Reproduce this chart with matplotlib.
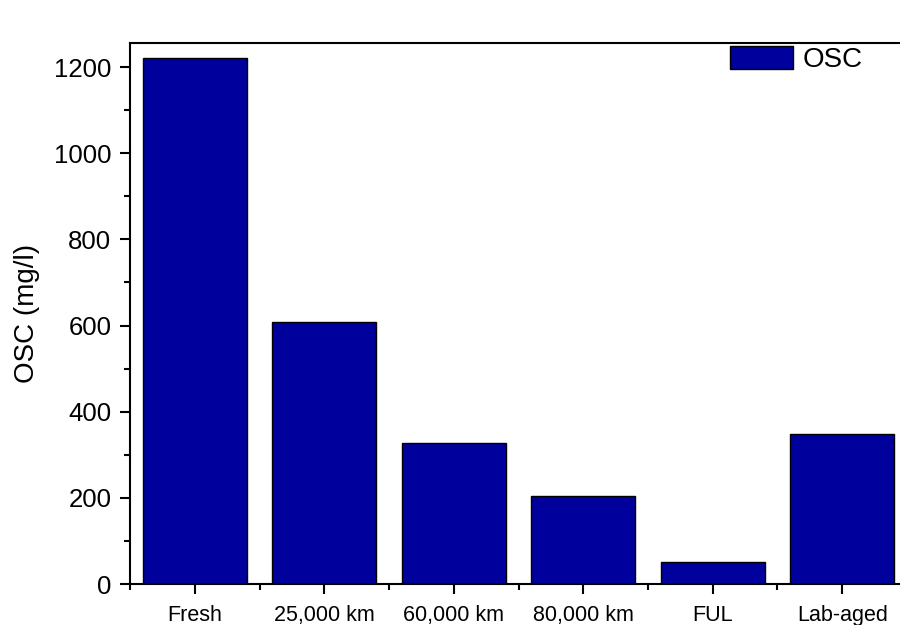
import matplotlib
matplotlib.use("Agg")
import matplotlib.pyplot as plt
from matplotlib.ticker import MultipleLocator, FixedLocator

plt.rcParams['font.family'] = ['Liberation Sans', 'DejaVu Sans']

# data
categories = ["Fresh", "25,000 km", "60,000 km", "80,000 km", "FUL", "Lab-aged"]
osc_values = [1222, 608, 327, 204, 52, 348]

fig = plt.figure(figsize=(9, 6.25), dpi=100)
# axes run past the right edge of the picture like in the original
ax = fig.add_axes([130 / 900, 41 / 625, 777 / 900, 541 / 625])

x = list(range(len(categories)))
ax.bar(x, osc_values, width=0.8, color="#00009c", edgecolor="black", linewidth=1.0, label="OSC")

ax.set_xlim(-0.5, len(categories) - 0.5)
ax.set_ylim(0, 1256)
ax.set_xticks(x)
ax.set_xticklabels(categories)
ax.xaxis.set_minor_locator(FixedLocator([i + 0.5 for i in range(-1, len(categories))]))
ax.yaxis.set_major_locator(MultipleLocator(200))
ax.yaxis.set_minor_locator(MultipleLocator(100))

ax.tick_params(axis="both", which="major", direction="out", length=7, width=1.5)
ax.tick_params(axis="both", which="minor", direction="out", length=4, width=1.5)
ax.tick_params(axis="x", which="major", labelsize=15.5, pad=8)
ax.tick_params(axis="y", which="major", labelsize=18.5, pad=6.5)

for side in ["left", "bottom", "top"]:
    ax.spines[side].set_linewidth(1.5)
ax.spines["right"].set_visible(False)

ax.set_ylabel("OSC (mg/l)", fontsize=20, labelpad=10)

ax.legend(loc="upper left", frameon=False, fontsize=20, handlelength=2.27, handleheight=0.9,
          handletextpad=0.36, borderpad=0, borderaxespad=0,
          bbox_to_anchor=(730 / 900, 1 - 46 / 625), bbox_transform=fig.transFigure)

fig.savefig("out.png", dpi=100)
